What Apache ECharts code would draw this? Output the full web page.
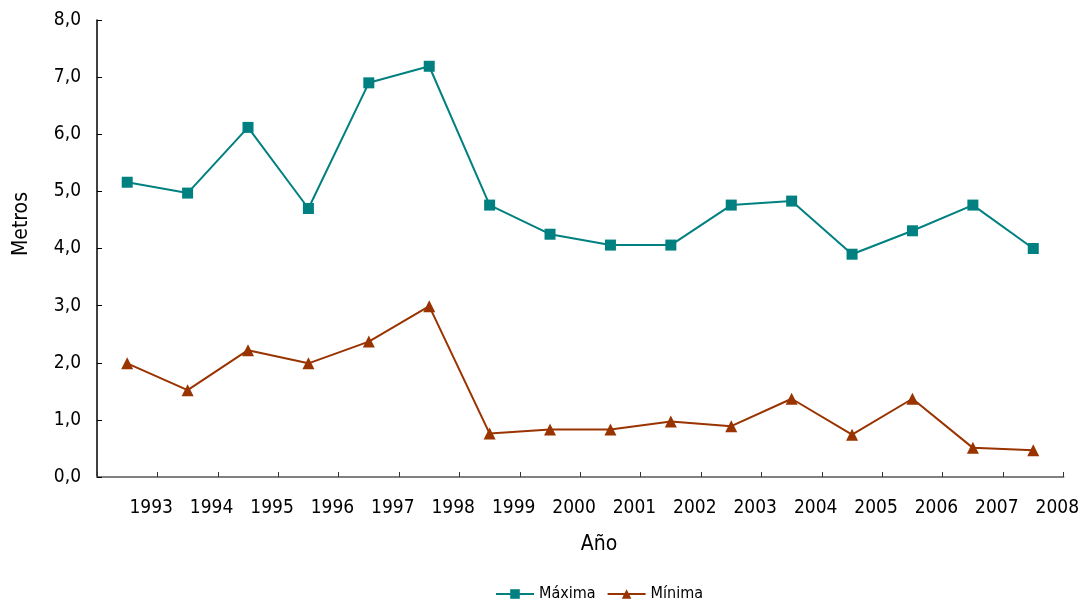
<!DOCTYPE html>
<html>
<head>
<meta charset="utf-8">
<script src="https://cdn.jsdelivr.net/npm/echarts@6/dist/echarts.min.js"></script>
<style>
html,body{margin:0;padding:0;background:#fff;}
#chart{width:1082px;height:602px;}
</style>
</head>
<body>
<div id="chart"></div>
<script>
var years = ['1993','1994','1995','1996','1997','1998','1999','2000','2001','2002','2003','2004','2005','2006','2007','2008'];
var maxima = [5.16, 4.97, 6.12, 4.70, 6.90, 7.19, 4.76, 4.25, 4.06, 4.06, 4.76, 4.83, 3.90, 4.31, 4.76, 4.00];
var minima = [1.99, 1.52, 2.22, 1.99, 2.37, 2.99, 0.76, 0.83, 0.83, 0.97, 0.89, 1.37, 0.74, 1.37, 0.51, 0.47];
var yTicks = {min: 0, max: 8, interval: 1};

var FONT = "'DejaVu Sans Condensed', 'Liberation Sans', sans-serif";

var chart = echarts.init(document.getElementById('chart'));
chart.setOption({
  animation: false,
  backgroundColor: '#ffffff',
  grid: {left: 97, right: 18, top: 20, bottom: 125, containLabel: false},
  xAxis: {
    type: 'category',
    data: years,
    boundaryGap: true,
    axisLine: {show: true, lineStyle: {color: '#808080', width: 2}},
    axisTick: {show: true, inside: true, length: 5, interval: 0, lineStyle: {color: '#333333', width: 1}},
    axisLabel: {interval: 0, margin: 22, color: '#000', fontSize: 19, fontFamily: FONT, padding: [0, 0, 0, 48]},
    splitLine: {show: false}
  },
  yAxis: {
    type: 'value',
    min: yTicks.min, max: yTicks.max, interval: yTicks.interval,
    axisLine: {show: true, lineStyle: {color: '#000', width: 1.5}},
    axisTick: {show: true, inside: true, length: 5, lineStyle: {color: '#000', width: 1}},
    axisLabel: {margin: 16, color: '#000', fontSize: 19, fontFamily: FONT,
      formatter: function (v) { return v.toFixed(1).replace('.', ','); }},
    splitLine: {show: false}
  },
  legend: {
    left: 495, top: 586, padding: 0,
    itemWidth: 38, itemHeight: 12, itemGap: 11,
    textStyle: {fontSize: 16, color: '#000', fontFamily: FONT},
    data: ['Máxima', 'Mínima']
  },
  graphic: [
    {type: 'text', x: 599, y: 545, style: {text: 'Año', fontSize: 21, fontFamily: FONT, fill: '#000', align: 'center', verticalAlign: 'middle'}},
    {type: 'text', x: 22, y: 224, rotation: Math.PI / 2, style: {text: 'Metros', fontSize: 21, fontFamily: FONT, fill: '#000', align: 'center', verticalAlign: 'middle'}}
  ],
  series: [
    {
      name: 'Máxima', type: 'line', data: maxima,
      symbol: 'rect', symbolSize: 11,
      lineStyle: {color: '#008080', width: 2},
      itemStyle: {color: '#008080'}
    },
    {
      name: 'Mínima', type: 'line', data: minima,
      symbol: 'triangle', symbolSize: 12,
      lineStyle: {color: '#993300', width: 2},
      itemStyle: {color: '#993300'}
    }
  ]
});
</script>
</body>
</html>
